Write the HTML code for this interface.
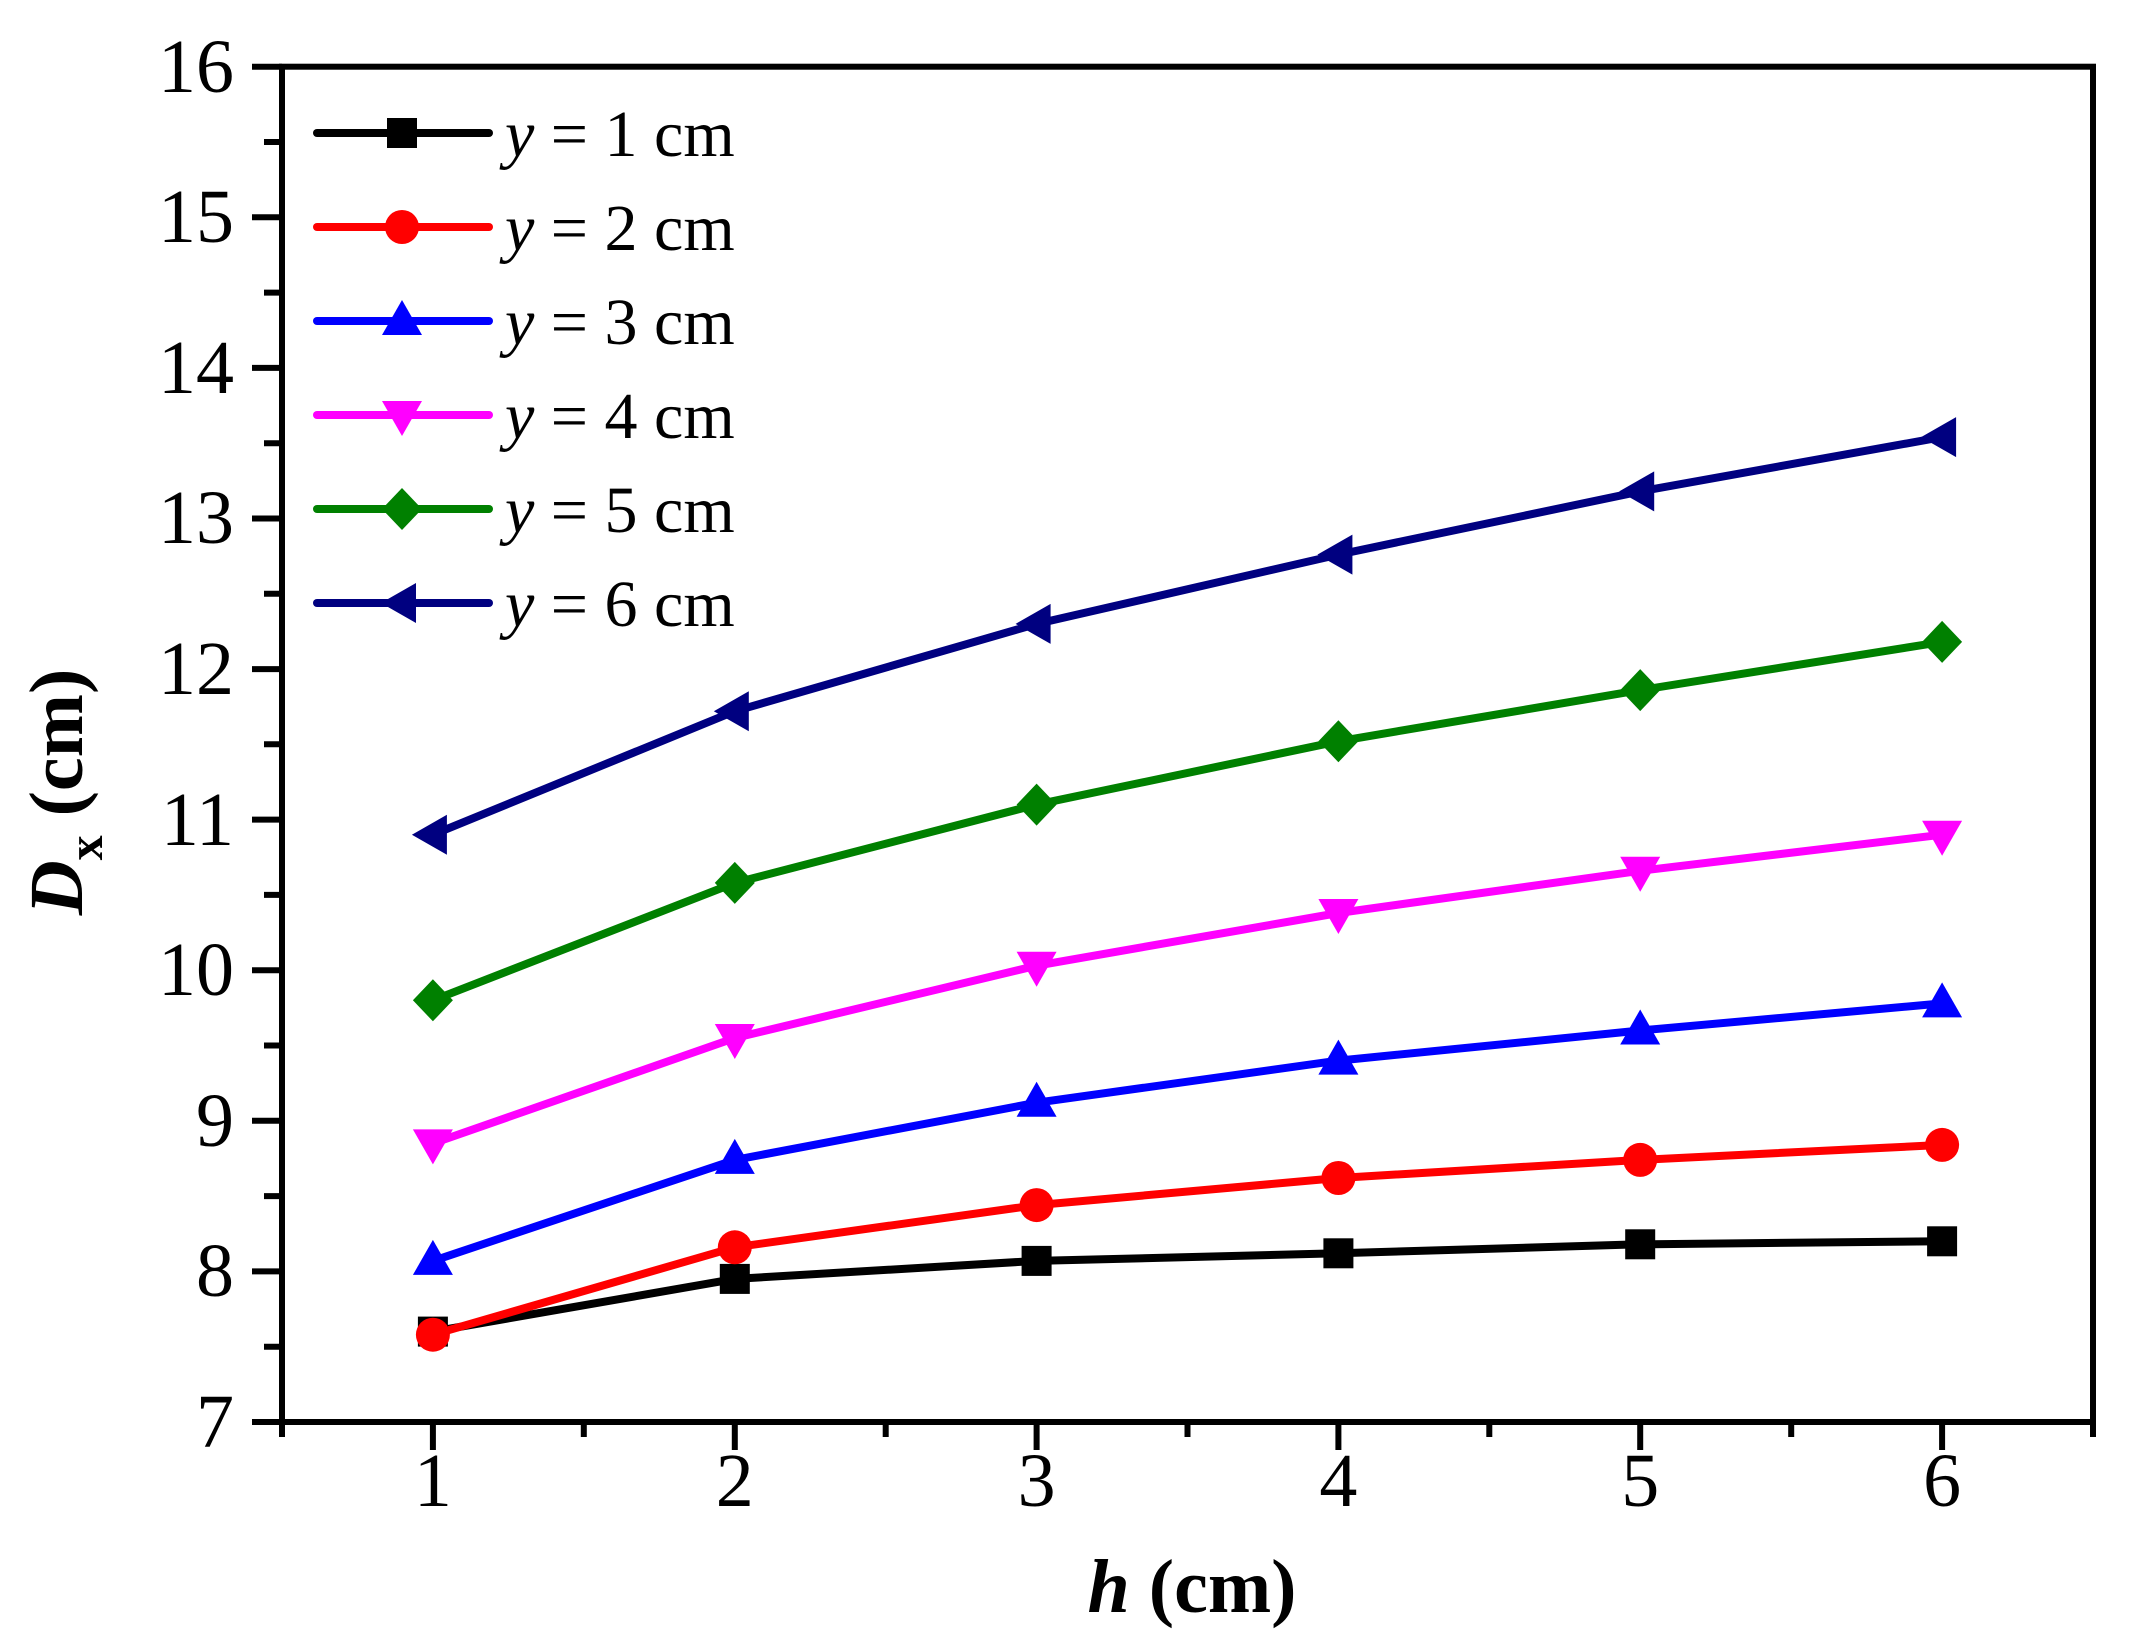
<!DOCTYPE html><html><head><style>body{margin:0;background:#fff}svg{display:block}</style></head><body>
<svg width="2134" height="1644" viewBox="0 0 2134 1644" xmlns="http://www.w3.org/2000/svg" xmlns:xlink="http://www.w3.org/1999/xlink" font-family="Liberation Serif, serif">
<defs>
<rect id="m0" x="-15" y="-15" width="30" height="30" fill="#000"/>
<circle id="m1" r="17" fill="#f00"/>
<polygon id="m2" points="0,-21 -20,14 20,14" fill="#00f"/>
<polygon id="m3" points="0,21 -20,-14 20,-14" fill="#f0f"/>
<polygon id="m4" points="0,-21 20,0 0,21 -20,0" fill="#008000"/>
<polygon id="m5" points="-21,0 14,-20 14,20" fill="#000080"/>
</defs>
<rect width="2134" height="1644" fill="#fff"/>
<rect x="282" y="66.7" width="1811" height="1355.3" fill="none" stroke="#000" stroke-width="6"/>
<g stroke="#000" stroke-width="6">
<line x1="252" x2="282" y1="1422" y2="1422"/><line x1="264" x2="282" y1="1346.7" y2="1346.7"/>
<line x1="252" x2="282" y1="1271.4" y2="1271.4"/><line x1="264" x2="282" y1="1196.1" y2="1196.1"/>
<line x1="252" x2="282" y1="1120.8" y2="1120.8"/><line x1="264" x2="282" y1="1045.5" y2="1045.5"/>
<line x1="252" x2="282" y1="970.2" y2="970.2"/><line x1="264" x2="282" y1="894.9" y2="894.9"/>
<line x1="252" x2="282" y1="819.6" y2="819.6"/><line x1="264" x2="282" y1="744.3" y2="744.3"/>
<line x1="252" x2="282" y1="669.1" y2="669.1"/><line x1="264" x2="282" y1="593.8" y2="593.8"/>
<line x1="252" x2="282" y1="518.5" y2="518.5"/><line x1="264" x2="282" y1="443.2" y2="443.2"/>
<line x1="252" x2="282" y1="367.9" y2="367.9"/><line x1="264" x2="282" y1="292.6" y2="292.6"/>
<line x1="252" x2="282" y1="217.3" y2="217.3"/><line x1="264" x2="282" y1="142" y2="142"/>
<line x1="252" x2="282" y1="66.7" y2="66.7"/>
<line x1="282" x2="282" y1="1422" y2="1437"/><line x1="432.9" x2="432.9" y1="1422" y2="1450"/>
<line x1="583.8" x2="583.8" y1="1422" y2="1437"/><line x1="734.8" x2="734.8" y1="1422" y2="1450"/>
<line x1="885.7" x2="885.7" y1="1422" y2="1437"/><line x1="1036.6" x2="1036.6" y1="1422" y2="1450"/>
<line x1="1187.5" x2="1187.5" y1="1422" y2="1437"/><line x1="1338.4" x2="1338.4" y1="1422" y2="1450"/>
<line x1="1489.3" x2="1489.3" y1="1422" y2="1437"/><line x1="1640.2" x2="1640.2" y1="1422" y2="1450"/>
<line x1="1791.2" x2="1791.2" y1="1422" y2="1437"/><line x1="1942.1" x2="1942.1" y1="1422" y2="1450"/>
<line x1="2093" x2="2093" y1="1422" y2="1437"/>
</g>
<g font-size="76" text-anchor="end">
<text x="234" y="1447">7</text><text x="234" y="1296">8</text><text x="234" y="1146">9</text>
<text x="234" y="995">10</text><text x="234" y="845">11</text><text x="234" y="694">12</text>
<text x="234" y="543">13</text><text x="234" y="393">14</text><text x="234" y="242">15</text><text x="234" y="92">16</text>
</g>
<g font-size="76" text-anchor="middle">
<text x="432.9" y="1506">1</text><text x="734.8" y="1506">2</text><text x="1036.6" y="1506">3</text>
<text x="1338.4" y="1506">4</text><text x="1640.2" y="1506">5</text><text x="1942.1" y="1506">6</text>
</g>
<text x="1192" y="1612" text-anchor="middle" font-size="76" font-weight="bold"><tspan font-style="italic">h</tspan> (cm)</text>
<text transform="translate(82,792) rotate(-90)" text-anchor="middle" font-size="76" font-weight="bold"><tspan font-style="italic">D</tspan><tspan font-size="50" dy="20">x</tspan><tspan dy="-20"> (cm)</tspan></text>
<g fill="none" stroke-width="8" stroke-linejoin="round">
<polyline stroke="#000" points="432.9,1331.6 734.8,1278.9 1036.6,1260.9 1338.4,1253.3 1640.2,1244.3 1942.1,1241.3"/>
<polyline stroke="#f00" points="432.9,1334.7 734.8,1247.3 1036.6,1205.1 1338.4,1178 1640.2,1159.9 1942.1,1144.9"/>
<polyline stroke="#00f" points="432.9,1260.9 734.8,1159.9 1036.6,1102.7 1338.4,1060.6 1640.2,1030.5 1942.1,1003.4"/>
<polyline stroke="#f0f" points="432.9,1143.4 734.8,1038 1036.6,965.7 1338.4,913 1640.2,870.8 1942.1,834.7"/>
<polyline stroke="#008000" points="432.9,1000.3 734.8,882.9 1036.6,804.6 1338.4,741.3 1640.2,690.1 1942.1,641.9"/>
<polyline stroke="#000080" points="432.9,834.7 734.8,711.2 1036.6,623.9 1338.4,554.6 1640.2,491.4 1942.1,437.1"/>
</g>
<use xlink:href="#m0" x="432.9" y="1331.6"/><use xlink:href="#m0" x="734.8" y="1278.9"/><use xlink:href="#m0" x="1036.6" y="1260.9"/><use xlink:href="#m0" x="1338.4" y="1253.3"/><use xlink:href="#m0" x="1640.2" y="1244.3"/><use xlink:href="#m0" x="1942.1" y="1241.3"/>
<use xlink:href="#m1" x="432.9" y="1334.7"/><use xlink:href="#m1" x="734.8" y="1247.3"/><use xlink:href="#m1" x="1036.6" y="1205.1"/><use xlink:href="#m1" x="1338.4" y="1178"/><use xlink:href="#m1" x="1640.2" y="1159.9"/><use xlink:href="#m1" x="1942.1" y="1144.9"/>
<use xlink:href="#m2" x="432.9" y="1260.9"/><use xlink:href="#m2" x="734.8" y="1159.9"/><use xlink:href="#m2" x="1036.6" y="1102.7"/><use xlink:href="#m2" x="1338.4" y="1060.6"/><use xlink:href="#m2" x="1640.2" y="1030.5"/><use xlink:href="#m2" x="1942.1" y="1003.4"/>
<use xlink:href="#m3" x="432.9" y="1143.4"/><use xlink:href="#m3" x="734.8" y="1038"/><use xlink:href="#m3" x="1036.6" y="965.7"/><use xlink:href="#m3" x="1338.4" y="913"/><use xlink:href="#m3" x="1640.2" y="870.8"/><use xlink:href="#m3" x="1942.1" y="834.7"/>
<use xlink:href="#m4" x="432.9" y="1000.3"/><use xlink:href="#m4" x="734.8" y="882.9"/><use xlink:href="#m4" x="1036.6" y="804.6"/><use xlink:href="#m4" x="1338.4" y="741.3"/><use xlink:href="#m4" x="1640.2" y="690.1"/><use xlink:href="#m4" x="1942.1" y="641.9"/>
<use xlink:href="#m5" x="432.9" y="834.7"/><use xlink:href="#m5" x="734.8" y="711.2"/><use xlink:href="#m5" x="1036.6" y="623.9"/><use xlink:href="#m5" x="1338.4" y="554.6"/><use xlink:href="#m5" x="1640.2" y="491.4"/><use xlink:href="#m5" x="1942.1" y="437.1"/>
<g stroke-width="8" stroke-linecap="round">
<line x1="317" x2="489" y1="133" y2="133" stroke="#000"/>
<line x1="317" x2="489" y1="227" y2="227" stroke="#f00"/>
<line x1="317" x2="489" y1="321" y2="321" stroke="#00f"/>
<line x1="317" x2="489" y1="415" y2="415" stroke="#f0f"/>
<line x1="317" x2="489" y1="509" y2="509" stroke="#008000"/>
<line x1="317" x2="489" y1="603" y2="603" stroke="#000080"/>
</g>
<use xlink:href="#m0" x="402" y="133"/><use xlink:href="#m1" x="402" y="227"/><use xlink:href="#m2" x="402" y="321"/>
<use xlink:href="#m3" x="402" y="415"/><use xlink:href="#m4" x="402" y="509"/><use xlink:href="#m5" x="402" y="603"/>
<g font-size="66">
<text x="505" y="156"><tspan font-style="italic">y</tspan> = 1 cm</text>
<text x="505" y="250"><tspan font-style="italic">y</tspan> = 2 cm</text>
<text x="505" y="344"><tspan font-style="italic">y</tspan> = 3 cm</text>
<text x="505" y="438"><tspan font-style="italic">y</tspan> = 4 cm</text>
<text x="505" y="532"><tspan font-style="italic">y</tspan> = 5 cm</text>
<text x="505" y="626"><tspan font-style="italic">y</tspan> = 6 cm</text>
</g>
</svg></body></html>
